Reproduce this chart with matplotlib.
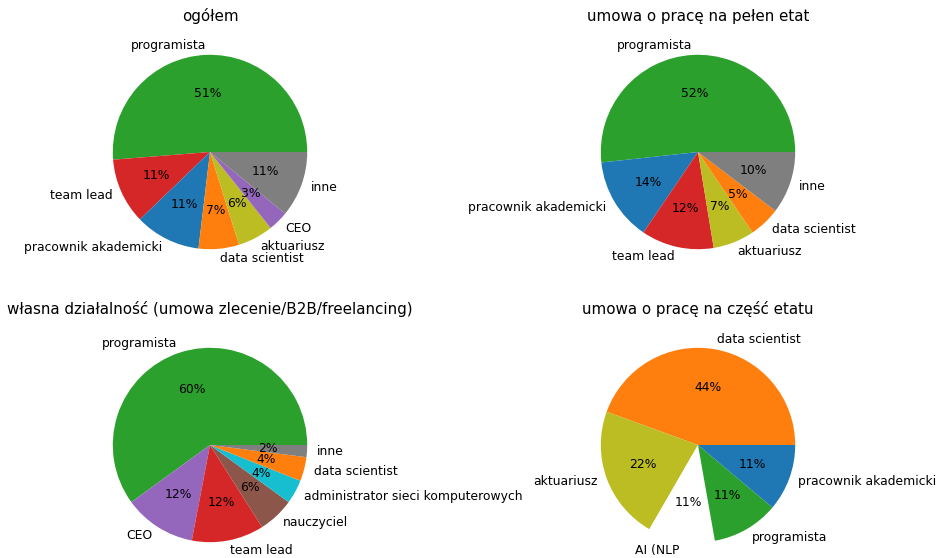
import matplotlib.pyplot as plt

# kolory przypisane do stanowisk
kolory = {
    'programista': 'tab:green',
    'team lead': 'tab:red',
    'pracownik akademicki': 'tab:blue',
    'data scientist': 'tab:orange',
    'aktuariusz': 'tab:olive',
    'CEO': 'tab:purple',
    'inne': 'tab:gray',
    'nauczyciel': 'tab:brown',
    'administrator sieci komputerowych': 'tab:cyan',
    'AI (NLP': 'white',
}

# ogółem
stan_ogolem = ['programista', 'team lead', 'pracownik akademicki', 'data scientist',
               'aktuariusz', 'CEO', 'inne']
liczby_ogolem = [61, 13, 13, 8, 7, 4, 13]

# umowa o pracę na pełen etat
stan_etat = ['programista', 'pracownik akademicki', 'team lead', 'aktuariusz',
             'data scientist', 'inne']
liczby_etat = [30, 8, 7, 4, 3, 6]

# własna działalność
stan_b2b = ['programista', 'CEO', 'team lead', 'nauczyciel',
            'administrator sieci komputerowych', 'data scientist', 'inne']
liczby_b2b = [30, 6, 6, 3, 2, 2, 1]

# umowa o pracę na część etatu
stan_czesc = ['data scientist', 'aktuariusz', 'AI (NLP', 'programista',
              'pracownik akademicki']
liczby_czesc = [4, 2, 1, 1, 1]

wykresy = [
    ('ogółem', stan_ogolem, liczby_ogolem),
    ('umowa o pracę na pełen etat', stan_etat, liczby_etat),
    ('własna działalność (umowa zlecenie/B2B/freelancing)', stan_b2b, liczby_b2b),
    ('umowa o pracę na część etatu', stan_czesc, liczby_czesc),
]

plt.rcParams['font.size'] = 8.9

fig = plt.figure(figsize=(9.41, 5.58), dpi=100)
W, H = 941, 558
size = 243
srodki = [(210, 152), (698, 152), (210, 445), (698, 445)]

for (tytul, stan, liczby), (cx, cy) in zip(wykresy, srodki):
    ax = fig.add_axes([(cx - size / 2) / W, (H - cy - size / 2) / H, size / W, size / H])
    ax.pie(liczby, labels=stan, autopct='%1.0f%%',
           colors=[kolory[s] for s in stan])
    ax.set_title(tytul, fontsize=10.9, pad=6.5)

plt.savefig('out.png', dpi=100)
